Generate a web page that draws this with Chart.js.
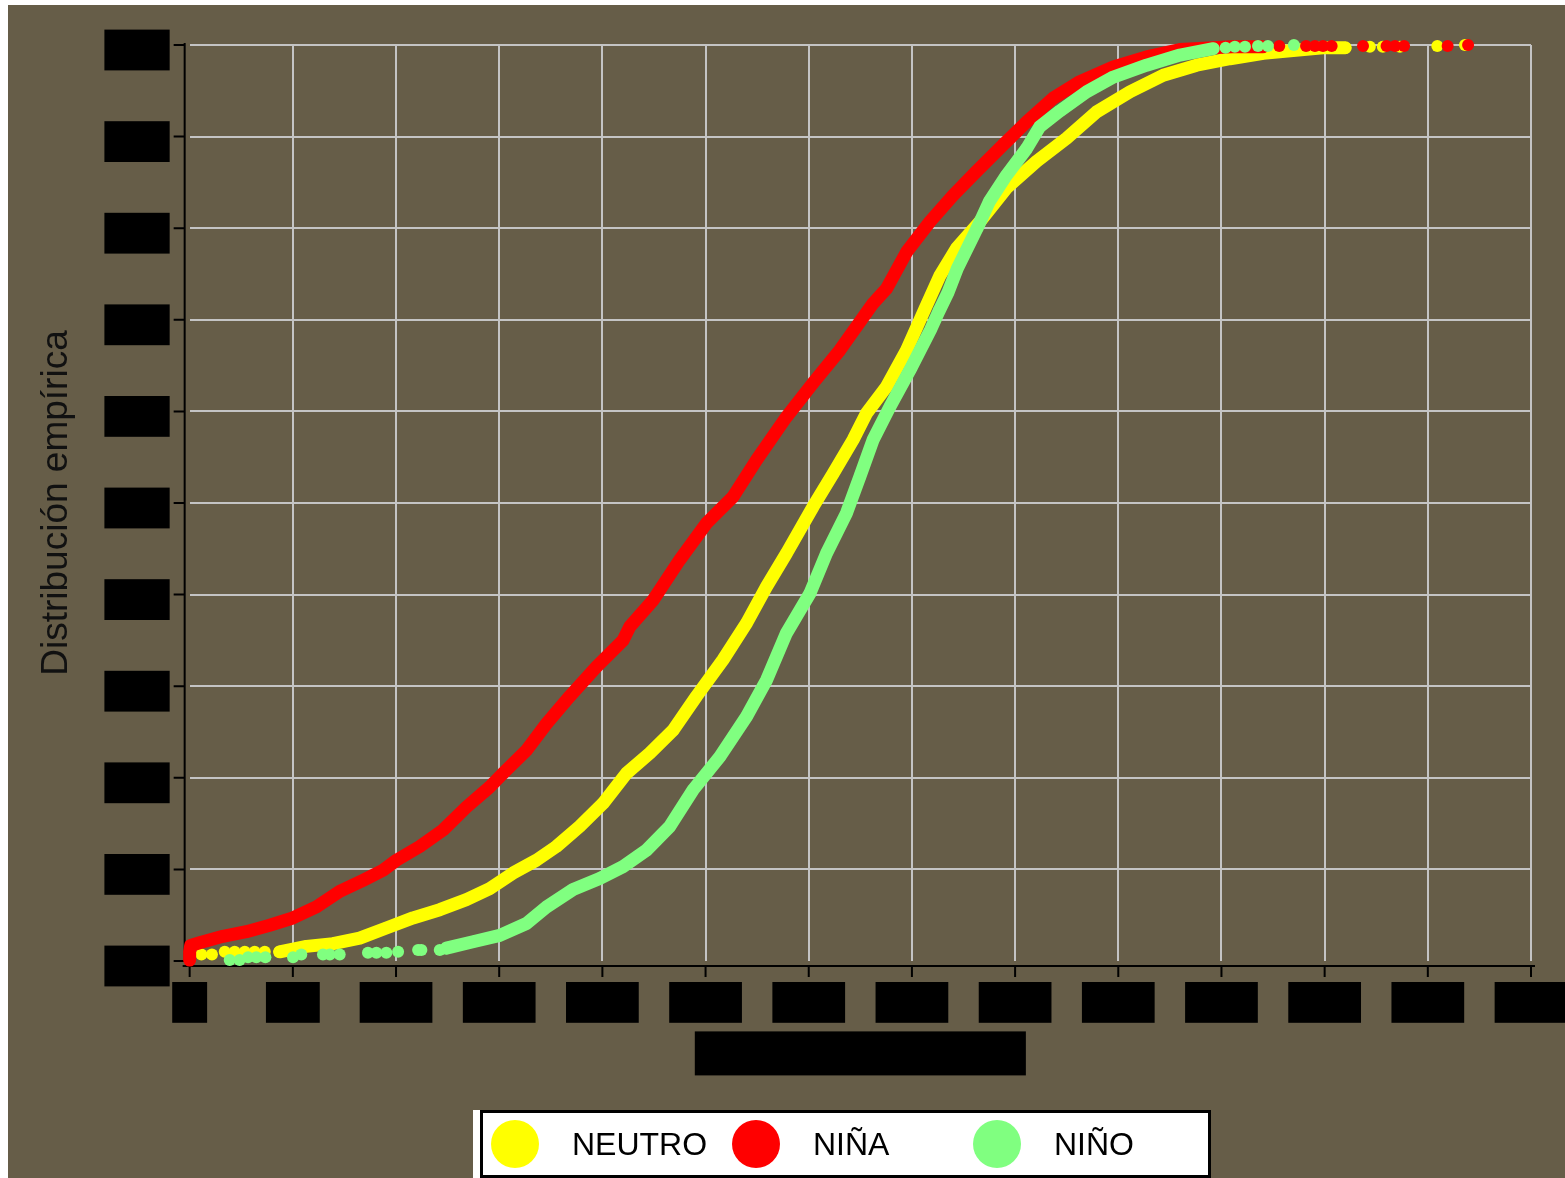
<!DOCTYPE html>
<html lang="es">
<head>
<meta charset="utf-8">
<title>Distribución empírica</title>
<script src="https://cdn.jsdelivr.net/npm/chart.js@4.4.1/dist/chart.umd.min.js"></script>
<style>
  html, body { margin: 0; background: #fff; }
  #wrap { position: absolute; left: 8px; top: 5px; width: 1557px; height: 1173px; background: #665d48; }
  #legend {
    position: absolute; left: 472px; top: 1105px; width: 731px; height: 68px;
    box-sizing: border-box; border: 3px solid #000; background: #fff;
    box-shadow: -7px 0 0 #fff;
    display: flex; align-items: center; padding-left: 8px;
    font: 32px "Liberation Sans", Arial, sans-serif; color: #000;
  }
  .item { width: 241px; flex: none; display: flex; align-items: center; }
  .dot { width: 48px; height: 48px; border-radius: 50%; margin-right: 33px; }
</style>
</head>
<body>
<div id="wrap">
  <canvas id="chart" width="1557" height="1173"></canvas>
  <div id="legend"></div>
</div>
<script>
// axis range
const xMin = 0, xMax = 650, xStep = 50;
const yMin = 0, yMax = 1, yStep = 0.1;
const xTitle = 'Precipitación (mm)';
const yTitle = 'Distribución empírica';

const labels = ['NEUTRO', 'NIÑA', 'NIÑO'];
const colors = ['#ffff00', '#ff0000', '#80ff80'];

// NEUTRO
const neutroX = [43.6, 56.6, 69.5, 82.4, 95.3, 108.2, 121.2, 134.1, 145.4, 156.7,
  168, 177.7, 189, 200.3, 211.7, 223, 234.3, 245.6, 258.5, 269.9,
  279.6, 289.2, 302.1, 311.8, 321.5, 328, 337.7, 347.4, 356.3, 363.5, 371.6,
  382.9, 395.9, 410.4, 424.9, 439.5, 455.7, 471.8, 488, 504.1, 520.3,
  534.7, 549.2, 560];
const neutroY = [0.010, 0.016, 0.019, 0.025, 0.036, 0.047, 0.056, 0.067, 0.079, 0.096,
  0.110, 0.125, 0.147, 0.172, 0.205, 0.227, 0.252, 0.289, 0.329, 0.369,
  0.409, 0.445, 0.496, 0.532, 0.569, 0.598, 0.627, 0.667, 0.712, 0.748, 0.778,
  0.807, 0.844, 0.873, 0.898, 0.927, 0.949, 0.967, 0.978, 0.985, 0.991,
  0.994, 0.997, 0.997];
const neutroLowX = [5.7, 10.8, 17, 21.8, 26.7, 31.5, 36.4];
const neutroLowY = [0.007, 0.007, 0.010, 0.010, 0.010, 0.010, 0.010];
const neutroHighX = [571.9, 578.2, 586.5, 604.6, 618];
const neutroHighY = [0.998, 0.998, 0.998, 0.999, 1.0];

// NIÑA
const ninaX = [0, 0, 0.5, 4.8, 16.1, 27.5, 38.8, 50, 61.4, 72.7,
  84, 93.7, 100.2, 111.5, 122.8, 134.1, 145.4, 151.9, 163.2, 172.9,
  184.2, 197.1, 210, 213.3, 224.6, 237.5, 250.5, 263.4, 274.7, 289.2,
  302.1, 315.1, 331.2, 337.7, 347.4, 358.7, 370, 381.3, 394.2, 405.6,
  418.5, 431.4, 447.6, 463.7, 479.9, 496, 505, 520];
const ninaY = [0.001, 0.010, 0.017, 0.020, 0.027, 0.032, 0.039, 0.047, 0.059, 0.076,
  0.088, 0.099, 0.110, 0.125, 0.143, 0.168, 0.190, 0.205, 0.230, 0.259,
  0.289, 0.321, 0.350, 0.365, 0.394, 0.438, 0.478, 0.507, 0.547, 0.594,
  0.631, 0.667, 0.718, 0.734, 0.774, 0.807, 0.836, 0.862, 0.891, 0.916,
  0.942, 0.960, 0.976, 0.987, 0.995, 0.997, 0.998, 0.998];
const ninaHighX = [528, 541, 545.3, 549.2, 553.4, 568.6, 580, 584.1, 588.5, 609.6, 619.5];
const ninaHighY = [0.999, 0.999, 0.999, 0.999, 0.999, 0.999, 0.999, 0.999, 0.999, 0.999, 1.0];

// NIÑO
const ninoX = [124.4, 137.3, 150.3, 163.2, 172.9, 185.8, 198.7, 210, 221.4, 232.7,
  244, 256.9, 269.9, 279.6, 289.2, 300.5, 308.6, 318.3, 324.8, 331.2,
  339.3, 349, 359, 363, 367.5, 372, 381.6, 387.5, 395.9, 405.6,
  412, 421.7, 434.7, 447.6, 463.7, 479.9, 496];
const ninoY = [0.014, 0.021, 0.028, 0.041, 0.059, 0.078, 0.090, 0.103, 0.121, 0.147,
  0.187, 0.223, 0.267, 0.307, 0.358, 0.401, 0.445, 0.489, 0.529, 0.569,
  0.605, 0.645, 0.689, 0.709, 0.730, 0.756, 0.800, 0.829, 0.858, 0.887,
  0.911, 0.928, 0.949, 0.965, 0.978, 0.989, 0.996];
const ninoLowX = [19.4, 24.2, 28.3, 32.3, 36.7, 50.1, 54.1, 64.6, 67.9, 72.7,
  86.4, 90.5, 95.3, 101, 110.7, 112.3, 121.2];
const ninoLowY = [0.001, 0.001, 0.004, 0.004, 0.004, 0.004, 0.007, 0.007, 0.007, 0.007,
  0.009, 0.009, 0.009, 0.010, 0.012, 0.012, 0.012];
const ninoHighX = [502, 506.5, 511.4, 517.7, 522.5, 535.1];
const ninoHighY = [0.997, 0.998, 0.998, 0.999, 0.999, 1.0];

const FONT = '"Liberation Sans", Arial, sans-serif';

function pts(xs, ys) {
  return xs.map((x, i) => ({x: x, y: ys[i]}));
}
function curve(xs, ys, color) {
  return { data: pts(xs, ys), showLine: true, borderColor: color, backgroundColor: color,
    borderWidth: 13, borderJoinStyle: 'round', borderCapStyle: 'round',
    pointRadius: 6, pointBorderWidth: 0, clip: false };
}
function dots(xs, ys, color) {
  return { data: pts(xs, ys), showLine: false, backgroundColor: color,
    pointRadius: 6, pointBorderWidth: 0, clip: false };
}

// first dataset is drawn on top: NIÑO, then NIÑA, then NEUTRO
const datasets = [
  curve(ninoX, ninoY, colors[2]), dots(ninoLowX, ninoLowY, colors[2]), dots(ninoHighX, ninoHighY, colors[2]),
  curve(ninaX, ninaY, colors[1]), dots(ninaHighX, ninaHighY, colors[1]),
  curve(neutroX, neutroY, colors[0]), dots(neutroLowX, neutroLowY, colors[0]), dots(neutroHighX, neutroHighY, colors[0])
];

// offset axis lines with short ticks, plus black box behind the x title
const axisPlugin = {
  id: 'axisPlugin',
  beforeDraw(chart) {
    const {ctx, chartArea, scales} = chart;
    const xs = scales.x;
    ctx.save();
    ctx.font = '36px ' + FONT;
    const w = ctx.measureText(xTitle).width + 31;
    const cx = (chartArea.left + chartArea.right) / 2;
    const cy = xs.bottom - 21.6;
    ctx.fillStyle = '#000';
    ctx.fillRect(cx - w / 2, cy - 22, w, 44);
    ctx.restore();
  },
  beforeDatasetsDraw(chart) {
    const {ctx, chartArea, scales} = chart;
    const gap = 5, tick = 11;
    ctx.save();
    ctx.strokeStyle = '#000';
    ctx.lineWidth = 2;
    ctx.beginPath();
    const ax = chartArea.left - gap;
    ctx.moveTo(ax, chartArea.top - 2);
    ctx.lineTo(ax, chartArea.bottom);
    scales.y.ticks.forEach((t, i) => {
      const py = scales.y.getPixelForTick(i);
      ctx.moveTo(ax - tick, py);
      ctx.lineTo(ax, py);
    });
    const ay = chartArea.bottom + gap;
    ctx.moveTo(chartArea.left - 7, ay);
    ctx.lineTo(chartArea.right + 4, ay);
    scales.x.ticks.forEach((t, i) => {
      const px = scales.x.getPixelForTick(i);
      ctx.moveTo(px, ay);
      ctx.lineTo(px, ay + tick);
    });
    ctx.stroke();
    ctx.restore();
  }
};

const gridColor = (c) => (c.tick && c.tick.value === 0) ? 'rgba(0,0,0,0)' : '#c4c4c4';

new Chart(document.getElementById('chart'), {
  type: 'scatter',
  data: { datasets: datasets },
  plugins: [axisPlugin],
  options: {
    responsive: false,
    animation: false,
    events: [],
    layout: { padding: { left: 27, right: 34, top: 40, bottom: 103 } },
    plugins: { legend: { display: false }, tooltip: { enabled: false } },
    scales: {
      x: {
        type: 'linear', min: xMin, max: xMax,
        grid: { color: gridColor, lineWidth: 2, drawTicks: false },
        border: { display: false },
        afterFit: (s) => { s.paddingLeft = 0; s.paddingRight = 0; },
        ticks: {
          stepSize: xStep, autoSkip: false, maxRotation: 0, padding: 21,
          color: '#000', font: { family: FONT, size: 34 },
          showLabelBackdrop: true, backdropColor: '#000',
          backdropPadding: { left: 8, right: 8, top: 0, bottom: 0 },
          callback: (v) => String(v)
        },
        title: { display: true, text: xTitle, color: '#000',
          font: { family: FONT, size: 36 }, padding: { top: -12, bottom: 0 } }
      },
      y: {
        type: 'linear', min: yMin, max: yMax,
        grid: { color: gridColor, lineWidth: 2, drawTicks: false },
        border: { display: false },
        afterFit: (s) => { s.paddingTop = 0; s.paddingBottom = 0; },
        ticks: {
          stepSize: yStep, padding: 29,
          color: '#000', font: { family: FONT, size: 34 },
          showLabelBackdrop: true, backdropColor: '#000',
          backdropPadding: { left: 9, right: 9, top: -5, bottom: 5 },
          callback: (v) => Number(v).toFixed(1)
        },
        title: { display: true, text: yTitle, color: '#111',
          font: { family: FONT, size: 37 }, padding: { top: 0, bottom: 5 } }
      }
    }
  }
});

// legend in the reference order
const legend = document.getElementById('legend');
labels.forEach((name, i) => {
  const item = document.createElement('div');
  item.className = 'item';
  const dot = document.createElement('span');
  dot.className = 'dot';
  dot.style.background = colors[i];
  const txt = document.createElement('span');
  txt.textContent = name;
  item.appendChild(dot);
  item.appendChild(txt);
  legend.appendChild(item);
});
</script>
</body>
</html>
